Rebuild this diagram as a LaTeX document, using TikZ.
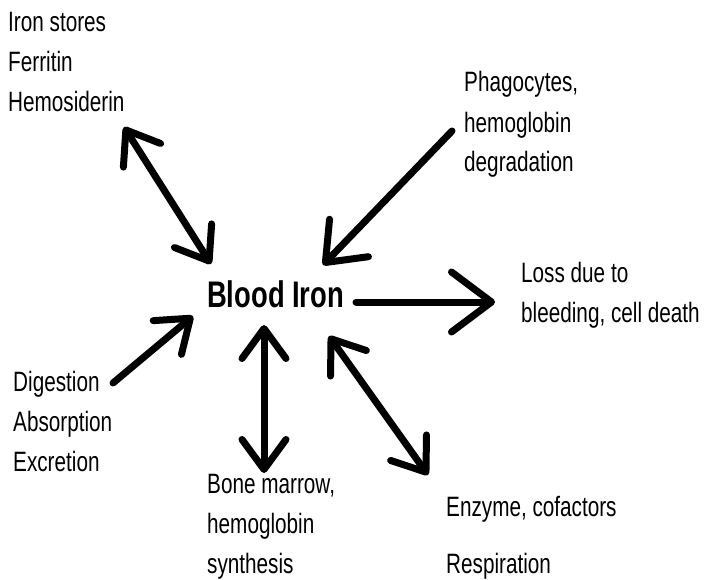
\documentclass[tikz,border=0pt]{standalone}
\usepackage{fontspec}
\setmainfont{Liberation Sans}[FakeStretch=0.74]
\usetikzlibrary{arrows.meta}

\tikzset{
  txt/.style={font=\fontsize{28}{40}\selectfont, align=left, anchor=base west, inner sep=0pt},
  hub/.style={font=\fontsize{37}{40}\selectfont\bfseries, anchor=base west, inner sep=0pt},
  flow/.style={line width=7pt, line cap=round, line join=round},
  barb/.tip={Straight Barb[length=30pt,width=44pt,round]},
  bigbarb/.tip={Straight Barb[length=40pt,width=60pt,round]}
}

\begin{document}
\begin{tikzpicture}[x=1pt, y=-1pt]
    \useasboundingbox (0,0) rectangle (704,580);
    % Centre
    \node[hub] (blood) at (207,307) {Blood Iron};
    % Sources and sinks (placed by the baseline of their last line)
    \node[txt] (stores) at (8,112) {Iron stores\\Ferritin\\Hemosiderin};
    \node[txt] (phago) at (464,172) {Phagocytes,\\hemoglobin\\degradation};
    \node[txt] (loss) at (521,322) {Loss due to\\bleeding, cell death};
    \node[txt] (digest) at (13,471) {Digestion\\Absorption\\Excretion};
    \node[txt] (marrow) at (207,573) {Bone marrow,\\hemoglobin\\synthesis};
    \node[txt] (enzyme) at (446,516) {Enzyme, cofactors};
    \node[txt] (resp) at (446,573) {Respiration};
    % Arrow ends
    \coordinate (stores-a) at (124,127);
    \coordinate (stores-b) at (211,264);
    \coordinate (phago-a) at (452,131);
    \coordinate (phago-b) at (323,265);
    \coordinate (loss-a) at (356,302);
    \coordinate (loss-b) at (495,302);
    \coordinate (digest-a) at (113,383);
    \coordinate (digest-b) at (193,316);
    \coordinate (marrow-a) at (264,325);
    \coordinate (marrow-b) at (264,473);
    \coordinate (enzyme-a) at (329,336);
    \coordinate (enzyme-b) at (428,475);
    % Arrows
    \draw[flow, barb-barb] (stores-a) -- (stores-b);
    \draw[flow, -{Straight Barb[length=34pt,width=54pt,round]}] (phago-a) -- (phago-b);
    \draw[flow, -bigbarb] (loss-a) -- (loss-b);
    \draw[flow, -barb] (digest-a) -- (digest-b);
    \draw[flow, barb-barb] (marrow-a) -- (marrow-b);
    \draw[flow, barb-barb] (enzyme-a) -- (enzyme-b);
\end{tikzpicture}
\end{document}
